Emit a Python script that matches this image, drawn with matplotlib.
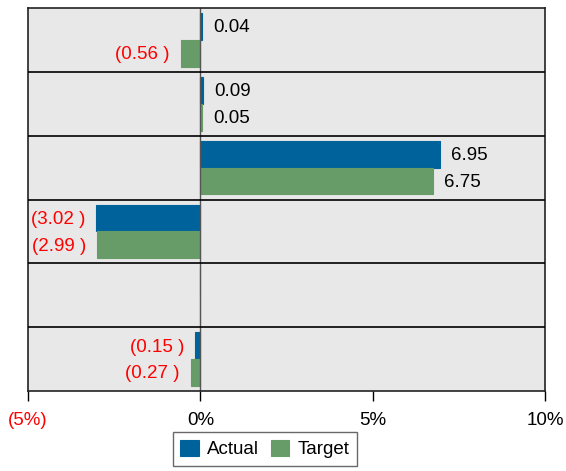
import matplotlib
matplotlib.use("Agg")
import matplotlib.pyplot as plt
import numpy as np

plt.rcParams['font.family'] = ['Liberation Sans', 'DejaVu Sans']

categories = ["A", "B", "C", "D", "E", "F"]
actual = [0.04, 0.09, 6.95, -3.02, 0.004, -0.15]
target = [-0.56, 0.05, 6.75, -2.99, 0.003, -0.27]
xticks = [-5, 0, 5, 10]

c_act = "#00629b"
c_tgt = "#679b67"

fig = plt.figure(figsize=(5.66, 4.71), dpi=100)
ax = fig.add_axes([28/566, 1-391/471, 517/566, 383/471])
ax.set_facecolor("#e8e8e8")

n = len(categories)
y = np.arange(n)
h = 0.42
ax.barh(y - h/2, actual, height=h, color=c_act, edgecolor=c_act, linewidth=0.8, label="Actual")
ax.barh(y + h/2, target, height=h, color=c_tgt, edgecolor=c_tgt, linewidth=0.8, label="Target")

def fmt(v):
    return f"({abs(v):.2f} )" if v < 0 else f"{v:.2f}"

FS = 13.5
for yi, vals in [(y - h/2, actual), (y + h/2, target)]:
    for yy, v in zip(yi, vals):
        if round(v, 2) == 0:
            continue
        if v >= 0:
            ax.annotate(fmt(v), (v, yy), xytext=(8, -1), textcoords="offset points",
                        ha="left", va="center", fontsize=FS, color="black")
        else:
            ax.annotate(fmt(v), (v, yy), xytext=(-8, -1), textcoords="offset points",
                        ha="right", va="center", fontsize=FS, color="red")

ax.set_xlim(-5, 10)
ax.set_ylim(n - 0.5, -0.5)
ax.set_yticks([])
for k in range(n - 1):
    ax.axhline(k + 0.5, color="black", lw=1.2, zorder=3)
ax.axvline(0, color="#555555", lw=1.0, zorder=1)

ax.set_xticks(xticks)
ax.set_xticklabels([f"({abs(t)}%)" if t < 0 else f"{t}%" for t in xticks], fontsize=FS)
for lbl, t in zip(ax.get_xticklabels(), xticks):
    if t < 0:
        lbl.set_color("red")
ax.tick_params(axis="x", direction="out", length=7, width=1, pad=8)
for s in ax.spines.values():
    s.set_color("#222222")
    s.set_linewidth(1.2)

fig.legend(loc="center", bbox_to_anchor=(265/566, 1-449/471), ncol=2, fontsize=FS,
           frameon=True, fancybox=False, edgecolor="#444444", handlelength=1.0,
           handleheight=1.0, handletextpad=0.45, columnspacing=0.6, borderpad=0.4)

fig.savefig("out.png", dpi=100)
